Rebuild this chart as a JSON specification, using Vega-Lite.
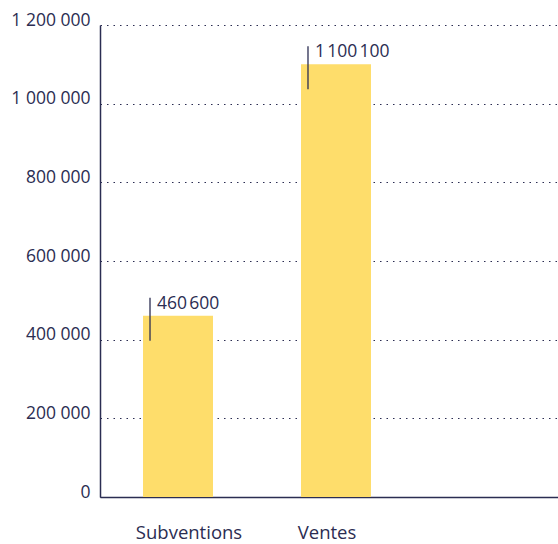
{
  "$schema": "https://vega.github.io/schema/vega-lite/v6.json",
  "autosize": "none",
  "padding": {"left": 100, "top": 25, "right": 0, "bottom": 47},
  "width": 458,
  "height": 472,
  "data": {"values": [
    {"cat": "Subventions", "value": 460600, "label": "460\u202f600"},
    {"cat": "Ventes", "value": 1100100, "label": "1\u202f100\u202f100"}
  ]},
  "encoding": {
    "x": {"field": "cat", "type": "nominal", "sort": null,
      "scale": {"paddingInner": 0.557, "paddingOuter": 0.728, "align": 0.187},
      "axis": {"title": null, "labelAngle": 0, "ticks": false, "labelPadding": 26, "labelOffset": {"condition": {"test": "datum.value === 'Subventions'", "value": 11}, "value": -9}, "domainColor": "#2b2d52", "domainWidth": 1.5, "labelFontSize": 18.5, "labelColor": "#2b2d52", "labelFont": "Open Sans", "labelFontWeight": 400}},
    "y": {"field": "value", "type": "quantitative",
      "scale": {"domain": [0, 1200000]},
      "axis": {"title": null, "values": [0, 200000, 400000, 600000, 800000, 1000000, 1200000], "labelExpr": "replace(format(datum.value, ','), /,/g, ' ')", "ticks": false, "labelPadding": 10, "labelOffset": -5, "labelFontSize": 17.5, "labelColor": "#2b2d52", "labelFont": "Open Sans", "labelFontWeight": 400, "domainColor": "#2b2d52", "domainWidth": 1.5, "grid": true, "gridColor": "#2b2d52", "gridDash": [1.5, 5], "gridWidth": 1.2}}
  },
  "layer": [
    {"mark": {"type": "bar", "color": "#fedd6b"}},
    {"mark": {"type": "rule", "color": "#2b2d52", "strokeWidth": 1.3, "xOffset": -28, "yOffset": -18, "y2Offset": 25},
     "encoding": {"y2": {"field": "value"}}},
    {"mark": {"type": "text", "align": "left", "baseline": "middle", "dx": -21, "dy": -12, "fontSize": 17.5, "font": "Open Sans", "fontWeight": 400, "color": "#2b2d52"},
     "encoding": {"text": {"field": "label"}}}
  ],
  "config": {"view": {"stroke": null}}
}
